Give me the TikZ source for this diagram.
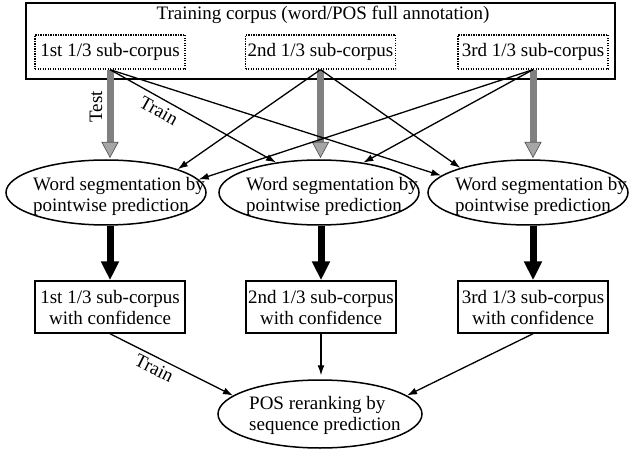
\documentclass[tikz,border=0pt]{standalone}
\usepackage{fontspec}
\setmainfont{Liberation Serif}
\usetikzlibrary{arrows.meta,shapes.geometric}
\begin{document}
\begin{tikzpicture}[x=1pt,y=-1pt,
  txt/.style={font=\fontsize{19}{21}\selectfont, inner sep=0pt},
  outerbox/.style={draw, line width=1.8pt, minimum width=589pt, minimum height=76pt, inner sep=0pt},
  subbox/.style={txt, draw, dash pattern=on 1.3pt off 1.2pt, line width=1.3pt, minimum width=150pt, minimum height=34pt},
  confbox/.style={txt, draw, line width=1.5pt, minimum width=150pt, minimum height=52pt, align=center},
  segell/.style={ellipse, draw, line width=1.5pt, minimum width=200pt, minimum height=65pt, inner sep=0pt},
  posell/.style={ellipse, draw, line width=1.5pt, minimum width=204pt, minimum height=68pt, inner sep=0pt},
  elltext/.style={txt, align=left, anchor=west},
  grayarr/.style={line width=7pt, draw=black!50, -{Triangle[length=16pt,width=17pt,color=black!70,fill=black!35,line width=0.6pt]}},
  thickarr/.style={line width=7pt, -{Triangle[length=19pt,width=17pt]}},
  thinarr/.style={line width=1.3pt, -{Latex[length=10pt,width=7pt]}},
  lbl/.style={txt}
]
\useasboundingbox (0,0) rectangle (629,449);

% top corpus box
\node[outerbox] (corpus) at (320.5,41) {};
\node[txt] (title) at (323,15) {Training corpus (word/POS full annotation)};
\node[subbox] (sub1) at (110,52) {1st 1/3 sub-corpus};
\node[subbox] (sub2) at (320.5,52) {2nd 1/3 sub-corpus};
\node[subbox] (sub3) at (533,52) {3rd 1/3 sub-corpus};

% segmentation ellipses
\node[segell] (e1) at (106,192.5) {};
\node[segell] (e2) at (319,192.5) {};
\node[segell] (e3) at (528,192.5) {};
\node[elltext] (t1) at (33,196) {Word segmentation by\\pointwise prediction};
\node[elltext] (t2) at (246,196) {Word segmentation by\\pointwise prediction};
\node[elltext] (t3) at (455,196) {Word segmentation by\\pointwise prediction};

% confidence boxes
\node[confbox] (c1) at (110,307) {1st 1/3 sub-corpus\\with confidence};
\node[confbox] (c2) at (321,307) {2nd 1/3 sub-corpus\\with confidence};
\node[confbox] (c3) at (533,307) {3rd 1/3 sub-corpus\\with confidence};

% POS ellipse
\node[posell] (pos) at (320,414) {};
\node[elltext] (tpos) at (249,415) {POS reranking by\\sequence prediction};

% gray test arrows
\draw[grayarr] (sub1.south) -- (sub1.south |- 0,158);
\draw[grayarr] (sub2.south) -- (sub2.south |- 0,158);
\draw[grayarr] (sub3.south) -- (sub3.south |- 0,158);
\node[lbl, rotate=90] (test) at (96,107) {Test};

% train arrows
\draw[thinarr] (sub1.south) -- node[lbl, sloped, below=5pt, pos=0.33] (train1) {Train} (e2.145);
\draw[thinarr] (sub1.south) -- (e3.169);
\draw[thinarr] (sub2.south) -- (e1.18);
\draw[thinarr] (sub2.south) -- (e3.160);
\draw[thinarr] (sub3.south) -- (e1.8);
\draw[thinarr] (sub3.south) -- (e2.34);

% thick arrows
\draw[thickarr] (c1.north |- e1.south) -- (c1.north);
\draw[thickarr] (c2.north |- e2.south) -- (c2.north);
\draw[thickarr] (c3.north |- e3.south) -- (c3.north);

% to POS
\draw[thinarr] (c1.south) -- node[lbl, sloped, below=4pt, pos=0.4] (train2) {Train} (pos.168);
\draw[thinarr, shorten >=4pt] (c2.south) -- (c2.south |- pos.north);
\draw[thinarr] (c3.south) -- (pos.12);
\end{tikzpicture}
\end{document}
